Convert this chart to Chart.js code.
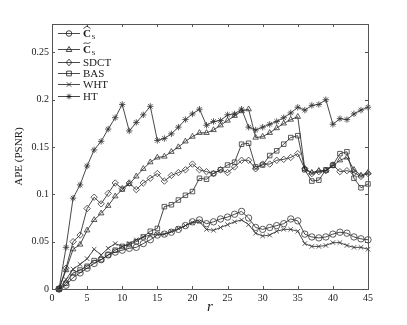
<!DOCTYPE html>
<html lang="en">
<head>
    <meta charset="UTF-8">
    <title>APE (PSNR)</title>
    <script src="https://cdn.jsdelivr.net/npm/chart.js@4/dist/chart.umd.min.js"></script>
    <style>
        body { margin: 0; background: #fff; }
        .chart-box { width: 407px; height: 325px; }
    </style>
</head>
<body>
<div class="chart-box">
    <canvas id="chart"></canvas>
</div>
<script>
    const rVals = [1, 2, 3, 4, 5, 6, 7, 8, 9, 10, 11, 12, 13, 14, 15, 16, 17, 18, 19, 20, 21, 22, 23, 24, 25,
        26, 27, 28, 29, 30, 31, 32, 33, 34, 35, 36, 37, 38, 39, 40, 41, 42, 43, 44, 45]
    const cHat = [0, 0.004, 0.012, 0.017, 0.022, 0.027, 0.031, 0.036, 0.039, 0.041, 0.043, 0.044, 0.048, 0.052, 0.057,
        0.058, 0.06, 0.063, 0.067, 0.071, 0.073, 0.069, 0.071, 0.074, 0.076, 0.079, 0.082, 0.075, 0.065, 0.063,
        0.065, 0.067, 0.069, 0.074, 0.072, 0.058, 0.055, 0.054, 0.055, 0.058, 0.06, 0.059, 0.055, 0.053, 0.052]
    const cTilde = [0, 0.02, 0.042, 0.047, 0.062, 0.073, 0.08, 0.088, 0.098, 0.105, 0.111, 0.119, 0.127, 0.134, 0.139,
        0.14, 0.145, 0.15, 0.156, 0.161, 0.165, 0.165, 0.168, 0.173, 0.178, 0.183, 0.188, 0.19, 0.16, 0.161,
        0.165, 0.17, 0.175, 0.179, 0.182, 0.127, 0.123, 0.125, 0.125, 0.13, 0.136, 0.139, 0.126, 0.12, 0.123]
    const sdct = [0, 0.022, 0.05, 0.057, 0.085, 0.097, 0.09, 0.101, 0.112, 0.106, 0.112, 0.105, 0.112, 0.117, 0.122,
        0.114, 0.12, 0.123, 0.126, 0.132, 0.126, 0.124, 0.122, 0.126, 0.123, 0.129, 0.136, 0.136, 0.127, 0.132,
        0.132, 0.136, 0.137, 0.139, 0.143, 0.127, 0.122, 0.124, 0.125, 0.131, 0.124, 0.125, 0.123, 0.119, 0.122]
    const bas = [0, 0.006, 0.017, 0.02, 0.024, 0.03, 0.031, 0.036, 0.041, 0.045, 0.047, 0.05, 0.055, 0.061, 0.064,
        0.087, 0.089, 0.094, 0.099, 0.103, 0.117, 0.116, 0.122, 0.126, 0.131, 0.134, 0.153, 0.154, 0.129, 0.131,
        0.141, 0.146, 0.153, 0.16, 0.162, 0.126, 0.114, 0.115, 0.126, 0.131, 0.143, 0.145, 0.117, 0.107, 0.111]
    const wht = [0, 0.01, 0.021, 0.026, 0.032, 0.042, 0.036, 0.043, 0.048, 0.045, 0.048, 0.052, 0.055, 0.057, 0.058,
        0.058, 0.061, 0.064, 0.067, 0.07, 0.071, 0.063, 0.062, 0.065, 0.068, 0.071, 0.073, 0.068, 0.059, 0.056,
        0.057, 0.061, 0.063, 0.063, 0.061, 0.048, 0.045, 0.045, 0.046, 0.049, 0.049, 0.046, 0.044, 0.044, 0.042]
    const ht = [0, 0.044, 0.096, 0.11, 0.13, 0.147, 0.156, 0.169, 0.181, 0.195, 0.167, 0.176, 0.184, 0.193, 0.157,
        0.159, 0.164, 0.171, 0.179, 0.185, 0.19, 0.173, 0.177, 0.178, 0.184, 0.185, 0.19, 0.171, 0.168, 0.171,
        0.174, 0.177, 0.181, 0.186, 0.192, 0.189, 0.194, 0.195, 0.2, 0.174, 0.18, 0.179, 0.185, 0.189, 0.192]

    const xTicks = [0, 5, 10, 15, 20, 25, 30, 35, 40, 45]
    const yTicks = [0, 0.05, 0.1, 0.15, 0.2, 0.25]
    const yTickLabels = ['0', '0.05', '0.1', '0.15', '0.2', '0.25']

    // legend label: base letter, accent, subscript (accent null = plain text)
    const series = [
        {name: 'C', accent: 'hat', sub: 'S', values: cHat, marker: 'circle'},
        {name: 'C', accent: 'tilde', sub: 'S', values: cTilde, marker: 'triangle'},
        {name: 'SDCT', accent: null, values: sdct, marker: 'rectRot'},
        {name: 'BAS', accent: null, values: bas, marker: 'rect'},
        {name: 'WHT', accent: null, values: wht, marker: 'crossRot'},
        {name: 'HT', accent: null, values: ht, marker: 'star'},
    ]

    const ink = '#1a1a1a'
    const serif = "'Liberation Serif', 'DejaVu Serif', serif"

    function drawMarker(ctx, style, x, y, r) {
        ctx.beginPath()
        if (style === 'circle') {
            ctx.arc(x, y, r, 0, Math.PI * 2)
        } else if (style === 'triangle') {
            ctx.moveTo(x, y - r * 1.1)
            ctx.lineTo(x + r, y + r * 0.7)
            ctx.lineTo(x - r, y + r * 0.7)
            ctx.closePath()
        } else if (style === 'rectRot') {
            ctx.moveTo(x, y - r * 1.2)
            ctx.lineTo(x + r, y)
            ctx.lineTo(x, y + r * 1.2)
            ctx.lineTo(x - r, y)
            ctx.closePath()
        } else if (style === 'rect') {
            ctx.rect(x - r * 0.85, y - r * 0.85, r * 1.7, r * 1.7)
        } else if (style === 'crossRot') {
            ctx.moveTo(x - r * 0.8, y - r * 0.8); ctx.lineTo(x + r * 0.8, y + r * 0.8)
            ctx.moveTo(x + r * 0.8, y - r * 0.8); ctx.lineTo(x - r * 0.8, y + r * 0.8)
        } else if (style === 'star') {
            ctx.moveTo(x - r, y); ctx.lineTo(x + r, y)
            ctx.moveTo(x, y - r); ctx.lineTo(x, y + r)
            ctx.moveTo(x - r * 0.7, y - r * 0.7); ctx.lineTo(x + r * 0.7, y + r * 0.7)
            ctx.moveTo(x + r * 0.7, y - r * 0.7); ctx.lineTo(x - r * 0.7, y + r * 0.7)
        }
        ctx.stroke()
    }

    const framePlugin = {
        id: 'frame',
        afterDraw(chart) {
            const ctx = chart.ctx
            const ca = chart.chartArea
            const xs = chart.scales.x
            const ys = chart.scales.y
            ctx.save()
            ctx.strokeStyle = '#555'
            ctx.lineWidth = 1
            ctx.strokeRect(Math.round(ca.left) + 0.5, Math.round(ca.top) + 0.5,
                Math.round(ca.right - ca.left), Math.round(ca.bottom - ca.top))
            ctx.beginPath()
            xTicks.forEach(v => {
                const px = Math.round(xs.getPixelForValue(v)) + 0.5
                ctx.moveTo(px, ca.bottom); ctx.lineTo(px, ca.bottom - 3)
                ctx.moveTo(px, ca.top); ctx.lineTo(px, ca.top + 3)
            })
            yTicks.forEach(v => {
                const py = Math.round(ys.getPixelForValue(v)) + 0.5
                ctx.moveTo(ca.left, py); ctx.lineTo(ca.left + 3, py)
                ctx.moveTo(ca.right, py); ctx.lineTo(ca.right - 3, py)
            })
            ctx.stroke()

            // legend
            let y = 33
            const gaps = [16, 13, 11, 11, 12]
            series.forEach((s, i) => {
                ctx.strokeStyle = ink
                ctx.lineWidth = 0.8
                ctx.beginPath()
                ctx.moveTo(58, y + 0.5); ctx.lineTo(80, y + 0.5)
                ctx.stroke()
                drawMarker(ctx, s.marker, 69, y + 0.5, 2.8)
                ctx.fillStyle = ink
                ctx.textBaseline = 'middle'
                ctx.textAlign = 'left'
                if (s.accent) {
                    ctx.font = 'bold 11px ' + serif
                    ctx.fillText(s.name, 83, y + 1)
                    const w = ctx.measureText(s.name).width
                    ctx.font = '7px ' + serif
                    ctx.fillText(s.sub, 83 + w + 0.5, y + 4)
                    ctx.beginPath()
                    ctx.lineWidth = 0.8
                    if (s.accent === 'hat') {
                        ctx.moveTo(83.5, y - 4.5); ctx.lineTo(83 + w / 2, y - 7); ctx.lineTo(83 + w - 0.5, y - 4.5)
                    } else {
                        ctx.moveTo(83.5, y - 5)
                        ctx.bezierCurveTo(85, y - 8, 88, y - 3.5, 83 + w - 0.5, y - 7)
                    }
                    ctx.stroke()
                } else {
                    ctx.font = '11px ' + serif
                    ctx.fillText(s.name, 83, y + 1)
                }
                y += gaps[i] || 0
            })
            ctx.restore()
        }
    }

    const datasets = series.map(s => ({
        label: s.name,
        data: rVals.map((r, i) => ({x: r, y: s.values[i]})),
        borderColor: ink,
        borderWidth: 0.8,
        pointStyle: s.marker,
        pointRadius: 3.2,
        pointBorderWidth: 0.8,
        pointBorderColor: '#333',
        pointBackgroundColor: 'rgba(0,0,0,0)',
        tension: 0,
        clip: 6,
    }))

    new Chart(document.getElementById('chart'), {
        type: 'line',
        data: {datasets},
        options: {
            responsive: true,
            maintainAspectRatio: false,
            animation: false,
            layout: {padding: {left: 0, right: 39, top: 24, bottom: 0}},
            plugins: {legend: {display: false}, tooltip: {enabled: false}},
            scales: {
                x: {
                    type: 'linear',
                    min: 0,
                    max: 45,
                    grid: {display: false, drawTicks: false},
                    border: {display: false},
                    afterBuildTicks: scale => { scale.ticks = xTicks.map(v => ({value: v})) },
                    afterFit: scale => { scale.height = 36 },
                    ticks: {
                        padding: 3,
                        color: ink,
                        font: {family: serif, size: 10},
                        maxRotation: 0,
                        callback: v => String(v),
                    },
                    title: {
                        display: true,
                        text: 'r',
                        color: ink,
                        font: {family: serif, size: 15, style: 'italic'},
                        padding: {top: 0, bottom: 9},
                    },
                },
                y: {
                    type: 'linear',
                    min: 0,
                    max: 0.28,
                    grid: {display: false, drawTicks: false},
                    border: {display: false},
                    afterBuildTicks: scale => { scale.ticks = yTicks.map(v => ({value: v})) },
                    afterFit: scale => { scale.width = 52 },
                    ticks: {
                        padding: 3,
                        color: ink,
                        font: {family: serif, size: 10},
                        callback: (v) => yTickLabels[yTicks.indexOf(v)] ?? '',
                    },
                    title: {
                        display: true,
                        text: 'APE (PSNR)',
                        color: ink,
                        font: {family: serif, size: 11},
                        padding: {top: 13, bottom: 0},
                    },
                },
            },
        },
        plugins: [framePlugin],
    })
</script>
</body>
</html>
